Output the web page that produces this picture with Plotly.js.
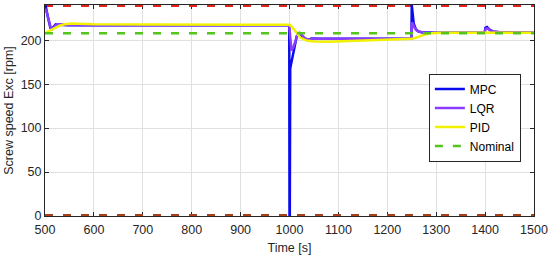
<!DOCTYPE html>
<html>
<head>
<meta charset="utf-8">
<script src="https://cdn.plot.ly/plotly-3.0.1.min.js"></script>
<style>
  html, body { margin: 0; padding: 0; background: #fff; }
  #chart { width: 550px; height: 258px; }
</style>
</head>
<body>
<div id="chart"></div>
<script>
// values
var tMPC = [500, 502, 505, 508, 511, 514, 518, 522, 530, 545, 600, 999.5, 1000, 1000.6, 1001.5, 1005, 1010, 1015, 1020, 1028, 1036, 1045, 1060, 1100, 1249.5, 1250, 1251.5, 1254, 1258, 1263, 1270, 1285, 1300, 1399, 1400.5, 1404, 1409, 1416, 1430, 1500];
var yMPC = [240, 237, 229, 220, 214, 213, 216, 218, 217.5, 217, 217, 217, 0, 0, 168, 178, 195, 205, 208, 203, 200, 202, 201.5, 201.5, 201.5, 240, 228, 219, 213, 210, 209, 208.5, 208.5, 208.5, 214, 215, 212, 210, 209, 209];

var tLQR = [500, 503, 506, 509, 512, 515, 519, 524, 532, 545, 600, 999.5, 1000.5, 1002, 1004, 1008, 1012, 1017, 1022, 1030, 1038, 1048, 1060, 1100, 1249.5, 1250.5, 1253, 1256, 1260, 1266, 1275, 1290, 1300, 1399, 1401, 1405, 1410, 1418, 1430, 1500];
var yLQR = [236, 233, 226, 219, 214, 212.5, 215, 218, 218, 217.5, 217, 217, 210, 196, 188, 192, 200, 207, 208, 203, 200.5, 201.5, 201.5, 201.5, 201.5, 220, 218, 214, 211, 209.5, 208.5, 208.5, 208.5, 208.5, 213, 213.5, 211, 209.5, 209, 209];

var tPID = [500, 510, 520, 530, 540, 555, 570, 600, 700, 850, 1000, 1005, 1013, 1022, 1035, 1050, 1080, 1120, 1170, 1230, 1250, 1260, 1275, 1290, 1310, 1400, 1500];
var yPID = [208, 211, 214, 216.5, 218, 219, 218.8, 218.2, 217.8, 217.6, 217.5, 215, 209, 203, 199.5, 198.5, 198.3, 199, 200, 201, 201.5, 203, 206, 208, 208.5, 208.5, 208.5];

var tNominal = [500, 1500];
var yNominal = [208, 208];

var tBound = [500, 1500];
var yUpper = [240, 240];
var yLower = [0, 0];

var seriesNames = ["MPC", "LQR", "PID", "Nominal"];

var fontFam = "Liberation Sans, Arial, sans-serif";

var data = [
  { x: tBound, y: yUpper, mode: "lines", showlegend: false, hoverinfo: "skip",
    line: { color: "#e0241a", width: 4, dash: "8px,10px" } },
  { x: tBound, y: yLower, mode: "lines", showlegend: false, hoverinfo: "skip",
    line: { color: "#a8401a", width: 4, dash: "8px,10px" } },
  { x: tMPC, y: yMPC, name: seriesNames[0], mode: "lines",
    line: { color: "#0a0aee", width: 2.5 } },
  { x: tLQR, y: yLQR, name: seriesNames[1], mode: "lines",
    line: { color: "#8a3dff", width: 2.5 } },
  { x: tPID, y: yPID, name: seriesNames[2], mode: "lines",
    line: { color: "#f2f200", width: 2.5 } },
  { x: tNominal, y: yNominal, name: seriesNames[3], mode: "lines",
    line: { color: "#55c51c", width: 2.5, dash: "8px,10px" } }
];

var layout = {
  width: 550,
  height: 258,
  margin: { l: 45, r: 16, t: 5, b: 42 },
  paper_bgcolor: "#ffffff",
  plot_bgcolor: "#ffffff",
  font: { family: fontFam, size: 12, color: "#262626" },
  showlegend: true,
  legend: {
    x: 0.785, y: 0.675, xanchor: "left", yanchor: "top",
    bgcolor: "#ffffff", bordercolor: "#262626", borderwidth: 1,
    font: { family: fontFam, size: 12, color: "#000" },
    tracegroupgap: 0
  },
  xaxis: {
    range: [500, 1500],
    tickvals: [500, 600, 700, 800, 900, 1000, 1100, 1200, 1300, 1400, 1500],
    ticks: "inside", ticklen: 4, tickcolor: "#262626",
    showline: true, mirror: "ticks", linecolor: "#262626", linewidth: 1,
    layer: "below traces",
    showgrid: true, gridcolor: "#e0e0e0", zeroline: false,
    ticklabelstandoff: 2,
    tickfont: { size: 12.5, color: "#262626" },
    title: { text: "Time [s]", font: { size: 12.5, color: "#262626" }, standoff: 7 }
  },
  yaxis: {
    range: [0, 240],
    tickvals: [0, 50, 100, 150, 200],
    ticks: "inside", ticklen: 4, tickcolor: "#262626",
    showline: true, mirror: "ticks", linecolor: "#262626", linewidth: 1,
    layer: "below traces",
    showgrid: true, gridcolor: "#e0e0e0", zeroline: false,
    tickfont: { size: 12.5, color: "#262626" },
    title: { text: "Screw speed Exc [rpm]", font: { size: 12.5, color: "#262626" }, standoff: 4 }
  }
};

Plotly.newPlot("chart", data, layout, { displayModeBar: false, staticPlot: true });
</script>
</body>
</html>
